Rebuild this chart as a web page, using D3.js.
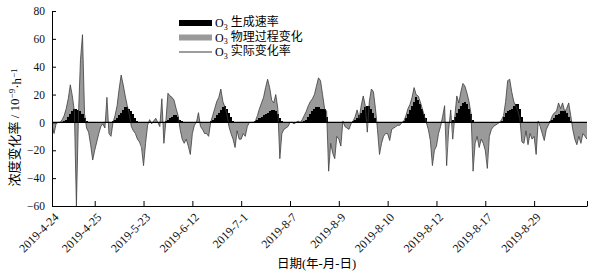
<!DOCTYPE html>
<html>
<head>
<meta charset="utf-8">
<script src="https://cdn.jsdelivr.net/npm/d3@7"></script>
<style>
  body { margin: 0; background: #fff; }
  svg text { font-family: "Liberation Serif", "Noto Sans CJK SC", serif; }
</style>
</head>
<body>
<svg id="chart" width="595" height="276"></svg>
<script>
// day labels (one per day, tick at the start of each day)
const dayLabels = ["2019-4-24", "2019-4-25", "2019-5-23", "2019-6-12", "2019-7-1", "2019-8-7",
                   "2019-8-9", "2019-8-10", "2019-8-12", "2019-8-17", "2019-8-29"];
const yTicks = [-60, -40, -20, 0, 20, 40, 60, 80];
const seriesNames = ["生成速率", "物理过程变化", "实际变化率"];

// hourly values, hour 0 = 2019-4-24 00:00, one row per day (last row = 3 extra hours)
// O3 生成速率
const prodRate = [
  0,0,0,0,0,0,0,0,0.5,1,2,4,6,8,10,10,9,8,6,3,1,0,0,0,
  0,0,0,0,0,0,0,0,0.5,1,2,3,5,7,9,11,11,10,8,6,3,1,0,0,
  0,0,0,0,0,0,0,0,0,0,0,1,2,3,4,5,5,4,2,1,0,0,0,0,
  0,0,0,0,0,0,0,0,0,1,2,3,5,7,9,11,12,10,7,4,1,0,0,0,
  0,0,0,0,0,0,0,1,2,3,4,5,6,7,8,9,9,8,6,3,1,0,0,0,
  0,0,0,0,0,0,0,1,2,4,6,8,10,11,11,10,10,10,4,0,0,0,0,0,
  0,0,0,0,0,0,0,1,2,3,5,7,9,11,12,12,10,7,3,0,0,0,0,0,
  0,0,0,0,0,0,0,0,1,3,6,9,12,15,18,16,13,10,6,3,0,0,0,0,
  0,0,0,0,0,0,0,0,2,4,7,10,12,14,15,13,10,6,2,0,0,0,0,0,
  0,0,0,0,0,0,0,0,1,4,7,8,9,10,12,13,13,10,4,0,0,0,0,0,
  0,0,0,0,0,0,0,0,1,2,3,5,6,8,8,8,7,4,1,0,0,0,0,0,
  0,0,0
];
// O3 物理过程变化
const physChange = [
  0,0,0,-2,-8,-1,0,0,2,5,10,17,27,18,8,-58,5,44,63,5,-4,-7,-16,-27,
  -20,-14,-8,-3,-1,-4,16,-8,-10,0,5,12,24,34,27,19,12,6,-3,-6,-8,-12,-14,-17,
  -30,-15,-2,2,-1,1,3,0,-3,16,-14,1,21,19,18,16,10,5,-5,-12,-15,-12,-17,-23,
  -8,-2,0,7,-3,-5,-8,-8,-10,0,5,10,15,18,24,15,11,6,-3,-8,-12,-18,-6,-12,
  -12,-8,-10,-3,0,0,0,1,5,10,14,18,25,31,25,16,14,20,10,-25,-8,-5,-4,-3,
  0,0,-1,0,1,0,2,5,8,12,15,17,20,26,32,30,20,10,8,-33,-15,-22,-26,-10,
  -12,-17,1,-3,-4,-5,-1,1,4,9,3,12,19,12,2,15,24,22,10,-5,-22,-15,-10,-8,
  -8,-13,-5,-4,-3,-2,-2,0,1,5,10,13,18,25,20,19,15,10,5,0,-5,-13,-30,-20,
  -17,-8,-3,4,12,-22,-5,9,-8,4,19,14,22,28,26,21,15,6,-32,-15,-10,-18,-12,-15,
  -20,-30,-10,-5,-3,-2,-1,0,2,5,15,30,31,22,15,12,8,3,-14,-15,-6,-16,-8,-12,
  -10,-23,1,-3,-8,-13,-5,-2,1,5,7,8,14,10,14,8,10,14,5,-5,-12,-16,-10,-15,
  -8,-10,-12
];
// O3 实际变化率
const actualChange = [
  0,0,0,-2,-8,-1,0,0,2,5,10,17,27,19,8,-60,5,45,63,6,-4,-7,-16,-27,
  -20,-14,-8,-3,-1,-4,18,-8,-10,0,5,12,24,34,27,19,12,6,-3,-6,-8,-12,-14,-18,
  -31,-15,-2,2,-1,1,3,0,-3,17,-15,1,21,19,18,16,10,5,-5,-12,-15,-12,-17,-23,
  -8,-2,0,7,-3,-5,-8,-8,-10,0,5,10,15,18,24,15,11,6,-3,-8,-12,-18,-6,-12,
  -12,-8,-10,-3,0,0,0,1,5,10,14,18,25,31,25,16,14,20,10,-26,-8,-5,-4,-3,
  0,0,-1,0,1,0,2,5,8,12,15,17,20,26,32,30,20,10,8,-35,-15,-22,-26,-10,
  -12,-17,1,-3,-4,-5,-1,1,4,9,3,12,19,12,-7,15,24,22,10,-5,-23,-15,-10,-8,
  -8,-13,-5,-4,-3,-2,-2,0,1,5,10,13,18,25,20,19,15,10,5,0,-5,-13,-31,-20,
  -17,-8,-3,4,12,-31,-5,9,-12,4,19,14,22,28,26,21,15,6,-35,-15,-10,-18,-12,-15,
  -20,-33,-10,-5,-3,-2,-1,0,2,5,15,30,31,22,15,12,8,3,-14,-15,-6,-16,-8,-12,
  -10,-23,1,-3,-8,-13,-5,-2,1,5,7,8,14,10,14,8,10,14,5,-5,-12,-16,-10,-15,
  -8,-10,-12
];

const startHour = 3, endHour = 266;

//margin
let margin = {top: 11, right: 8, bottom: 70, left: 52},
    width = 595 - margin.left - margin.right,
    height = 276 - margin.top - margin.bottom;

let svg = d3.select("#chart")
    .append("g")
    .attr("transform", "translate(" + margin.left + "," + margin.top + ")");

//ranges
let x = d3.scaleLinear().domain([startHour, endHour]).range([0, width]);
let y = d3.scaleLinear().domain([-60, 80]).range([height, 0]);

svg.append("clipPath").attr("id", "plotclip")
    .append("rect").attr("width", width).attr("height", height);

let plot = svg.append("g").attr("clip-path", "url(#plotclip)");

//gray area: physical process
let area = d3.area()
    .x(function(d, i) { return x(i); })
    .y0(y(0))
    .y1(function(d) { return y(d); });

plot.append("path")
    .datum(physChange)
    .attr("fill", "#9a9a9a")
    .attr("d", area);

//black steps: production rate (one step per hour)
let stepArea = d3.area()
    .curve(d3.curveStep)
    .x(function(d, i) { return x(i); })
    .y0(y(0))
    .y1(function(d) { return y(d); });

plot.append("path")
    .datum(prodRate)
    .attr("fill", "#000")
    .attr("shape-rendering", "crispEdges")
    .attr("d", stepArea);

//zero line
svg.append("line")
    .attr("x1", 0).attr("x2", width)
    .attr("y1", y(0)).attr("y2", y(0))
    .attr("stroke", "#000").attr("stroke-width", 1.3);

//actual change line
let valueline = d3.line()
    .x(function(d, i) { return x(i); })
    .y(function(d) { return y(d); });

plot.append("path")
    .datum(actualChange)
    .attr("fill", "none")
    .attr("stroke", "#3c3c3c")
    .attr("stroke-width", 0.8)
    .attr("d", valueline);

//x axis
let xTickVals = [startHour].concat(d3.range(1, dayLabels.length).map(function(d) { return d * 24; })).concat([endHour]);
let xAxis = svg.append("g")
    .attr("transform", "translate(0," + height + ")")
    .call(d3.axisBottom(x)
        .tickValues(xTickVals)
        .tickSizeInner(-5)
        .tickSizeOuter(0)
        .tickFormat(function(d, i) { return dayLabels[i] || ""; }));
xAxis.selectAll("text")
    .attr("x", 0).attr("y", 0).attr("dy", "0.35em")
    .attr("transform", "translate(4,9) rotate(-45)")
    .style("text-anchor", "end")
    .style("font-size", "12px")
    .attr("fill", "#111");

//y axis
let yAxis = svg.append("g")
    .call(d3.axisLeft(y)
        .tickValues(yTicks)
        .tickSizeInner(-4)
        .tickSizeOuter(0)
        .tickPadding(7));
yAxis.selectAll("text").style("font-size", "11.5px").attr("fill", "#111");
svg.selectAll(".domain, .tick line").attr("stroke", "#000").attr("stroke-width", 1);

//x axis label
svg.append("text")
    .attr("x", width / 2 - 3)
    .attr("y", height + 62)
    .style("text-anchor", "middle")
    .style("font-size", "12.5px")
    .text("日期(年-月-日)");

//y axis label
let yl = svg.append("text")
    .attr("transform", "translate(-33," + (height / 2 + 19) + ") rotate(-90)")
    .style("text-anchor", "middle")
    .style("font-size", "13px");
yl.append("tspan").text("浓度变化率 / 10");
yl.append("tspan").attr("dy", "-0.45em").style("font-size", "9px").text("−9");
yl.append("tspan").attr("dy", "0.45em").text("·h");
yl.append("tspan").attr("dy", "-0.45em").style("font-size", "9px").text("−1");

//legend
let legend = svg.append("g").attr("transform", "translate(127,12)");
let swatch = [
    function(g) { g.append("rect").attr("x", 0).attr("y", -3).attr("width", 33).attr("height", 6).attr("fill", "#000"); },
    function(g) { g.append("rect").attr("x", 0).attr("y", -3).attr("width", 33).attr("height", 6).attr("fill", "#9a9a9a"); },
    function(g) { g.append("line").attr("x1", 0).attr("x2", 33).attr("y1", 0).attr("y2", 0).attr("stroke", "#3c3c3c").attr("stroke-width", 1); }
];
seriesNames.forEach(function(name, i) {
    let row = legend.append("g").attr("transform", "translate(0," + (i * 14.5) + ")");
    swatch[i](row);
    let t = row.append("text")
        .attr("x", 36).attr("y", 0).attr("dy", "0.35em")
        .style("font-size", "12px");
    t.append("tspan").text("O");
    t.append("tspan").attr("dy", "0.3em").style("font-size", "8px").text("3");
    t.append("tspan").attr("dy", "-0.3em").text(" " + name);
});
</script>
</body>
</html>
